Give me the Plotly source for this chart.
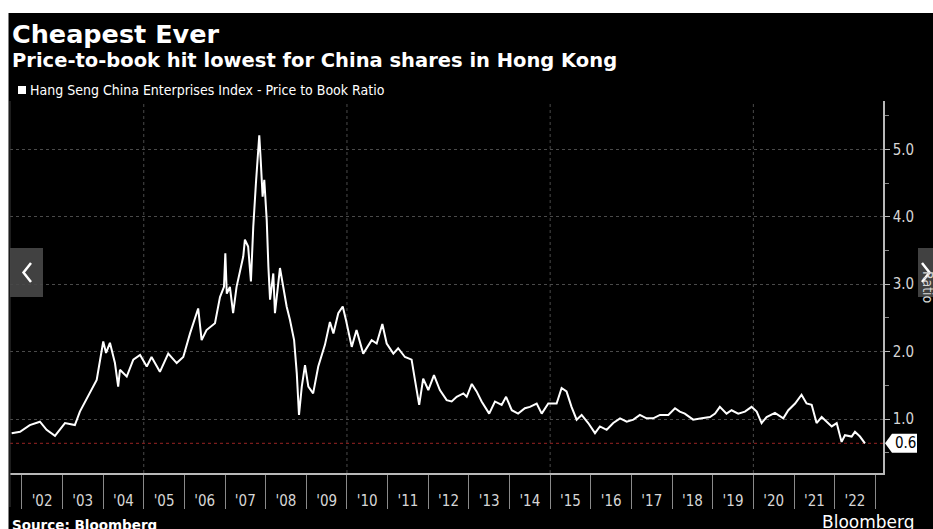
import plotly.graph_objects as go

# ---------------- data ----------------
dates = [
    "2001-10-02", "2001-12-16", "2002-03-14", "2002-06-13", "2002-08-12", "2002-10-26",
    "2003-01-24", "2003-04-23", "2003-06-07", "2003-09-06", "2003-11-05", "2004-01-03",
    "2004-01-28", "2004-03-03", "2004-04-17", "2004-05-16", "2004-06-01", "2004-08-01",
    "2004-09-29", "2004-11-29", "2005-01-28", "2005-03-12", "2005-05-26", "2005-08-09",
    "2005-10-24", "2005-12-22", "2006-02-21", "2006-05-05", "2006-06-05", "2006-07-19",
    "2006-10-03", "2006-11-17", "2006-12-23", "2007-01-04", "2007-01-17", "2007-02-14",
    "2007-03-15", "2007-04-15", "2007-06-14", "2007-06-29", "2007-07-28", "2007-08-22",
    "2007-09-12", "2007-10-06", "2007-11-05", "2007-11-18", "2007-12-05", "2007-12-20",
    "2008-01-11", "2008-01-26", "2008-02-10", "2008-03-10", "2008-03-25", "2008-05-09",
    "2008-06-08", "2008-07-08", "2008-08-07", "2008-09-13", "2008-10-07", "2008-10-27",
    "2008-11-21", "2008-12-20", "2009-01-19", "2009-03-03", "2009-04-18", "2009-06-17",
    "2009-08-01", "2009-09-01", "2009-10-15", "2009-11-24", "2009-12-23", "2010-02-13",
    "2010-03-28", "2010-05-27", "2010-08-11", "2010-09-25", "2010-11-15", "2010-12-24",
    "2011-02-22", "2011-04-06", "2011-06-06", "2011-08-05", "2011-09-04", "2011-10-12",
    "2011-11-17", "2012-01-02", "2012-02-22", "2012-04-15", "2012-06-15", "2012-07-30",
    "2012-09-13", "2012-11-12", "2012-12-12", "2013-01-27", "2013-03-11", "2013-04-25",
    "2013-07-02", "2013-08-23", "2013-10-22", "2013-12-01", "2014-01-21", "2014-03-19",
    "2014-05-19", "2014-07-03", "2014-09-02", "2014-10-17", "2014-12-15", "2015-02-28",
    "2015-04-14", "2015-05-28", "2015-07-12", "2015-08-27", "2015-10-11", "2015-12-09",
    "2016-02-08", "2016-03-23", "2016-05-23", "2016-07-21", "2016-09-20", "2016-11-19",
    "2017-01-18", "2017-03-17", "2017-05-16", "2017-07-15", "2017-09-14", "2017-11-28",
    "2018-01-27", "2018-03-11", "2018-04-25", "2018-07-09", "2018-09-24", "2018-12-07",
    "2019-01-22", "2019-03-06", "2019-05-05", "2019-06-19", "2019-08-18", "2019-10-17",
    "2019-12-16", "2020-01-31", "2020-03-15", "2020-04-29", "2020-07-13", "2020-09-26",
    "2020-11-10", "2021-01-10", "2021-03-09", "2021-04-23", "2021-06-08", "2021-07-22",
    "2021-09-06", "2021-10-20", "2021-12-05", "2022-01-19", "2022-03-04", "2022-04-03",
    "2022-06-02", "2022-07-02", "2022-08-16", "2022-09-30",
]
pb_ratio = [
    0.79, 0.81, 0.91, 0.96, 0.84, 0.75,
    0.94, 0.91, 1.11, 1.39, 1.58, 2.15,
    1.98, 2.13, 1.83, 1.48, 1.73, 1.63,
    1.88, 1.95, 1.78, 1.92, 1.70, 1.97,
    1.83, 1.92, 2.27, 2.64, 2.17, 2.32,
    2.42, 2.81, 2.96, 3.46, 2.86, 2.96,
    2.57, 2.96, 3.41, 3.66, 3.56, 3.04,
    3.85, 4.50, 5.21, 4.84, 4.30, 4.55,
    3.95, 3.26, 2.77, 3.16, 2.57, 3.24,
    2.96, 2.67, 2.47, 2.17, 1.68, 1.06,
    1.48, 1.80, 1.48, 1.38, 1.78, 2.10,
    2.44, 2.27, 2.57, 2.67, 2.47, 2.07,
    2.32, 1.97, 2.17, 2.12, 2.41, 2.12,
    1.97, 2.05, 1.92, 1.88, 1.58, 1.21,
    1.60, 1.43, 1.65, 1.43, 1.28, 1.26,
    1.33, 1.38, 1.33, 1.52, 1.41, 1.26,
    1.08, 1.26, 1.21, 1.33, 1.13, 1.08,
    1.16, 1.18, 1.23, 1.08, 1.23, 1.23,
    1.46, 1.41, 1.18, 0.99, 1.06, 0.94,
    0.79, 0.89, 0.84, 0.94, 1.01, 0.96,
    0.99, 1.06, 1.01, 1.01, 1.06, 1.06,
    1.16, 1.11, 1.08, 0.99, 1.01, 1.03,
    1.08, 1.18, 1.08, 1.13, 1.08, 1.11,
    1.18, 1.11, 0.94, 1.03, 1.09, 1.01,
    1.13, 1.23, 1.36, 1.23, 1.21, 0.94,
    1.03, 0.96, 0.89, 0.94, 0.66, 0.76,
    0.74, 0.81, 0.74, 0.64,
]
grid_years = ["2005-01-01", "2010-01-01", "2015-01-01", "2020-01-01"]

title = "Cheapest Ever"
subtitle = "Price-to-book hit lowest for China shares in Hong Kong"
series_name = "Hang Seng China Enterprises Index - Price to Book Ratio"

# ---------------- layout geometry ----------------
W, H = 933, 529
ML, MR, MT, MB = 10, 50, 101, 56
PW = W - ML - MR
PH = H - MT - MB


def px(x):
    return (x - ML) / PW


def py(y):
    return (H - MB - y) / PH


AX = "#b8b8b8"
TXT = "#d6d6d6"
GRID = "#4a4a4a"
TICKFONT = dict(family="DejaVu Sans Condensed, DejaVu Sans", size=15, color=TXT)

fig = go.Figure()
fig.add_trace(go.Scatter(
    x=dates, y=pb_ratio, mode="lines",
    line=dict(color="white", width=2),
    hoverinfo="skip", showlegend=False,
))

shapes = []
# white border strips of the screenshot
shapes.append(dict(type="rect", xref="paper", yref="paper", x0=px(-5), x1=px(W + 5),
                   y0=py(13), y1=py(-5), fillcolor="white", line=dict(width=0), layer="above"))
shapes.append(dict(type="rect", xref="paper", yref="paper", x0=px(-5), x1=px(8.5),
                   y0=py(H + 5), y1=py(-5), fillcolor="white", line=dict(width=0), layer="above"))
# vertical 5-year grid lines
for g in grid_years:
    shapes.append(dict(type="line", xref="x", yref="paper", x0=g, x1=g, y0=0, y1=1,
                       line=dict(color=GRID, width=1, dash="dot"), layer="below"))
# left edge line
shapes.append(dict(type="line", xref="paper", yref="paper", x0=0, x1=0, y0=py(507), y1=1,
                   line=dict(color="#3a3a3a", width=1)))
# last-value reference line
last = pb_ratio[-1]
shapes.append(dict(type="line", xref="paper", yref="y", x0=0, x1=1, y0=last, y1=last,
                   line=dict(color="#7a1c1c", width=1.2, dash="dot"), layer="below"))
# last-value tag pointer
dy = 9.5 / (PH / (5.718 - 0.199))
shapes.append(dict(type="path", xref="paper", yref="y",
                   path=f"M {px(885)},{last} L {px(892)},{last + dy} L {px(917)},{last + dy} "
                        f"L {px(917)},{last - dy} L {px(892)},{last - dy} Z",
                   fillcolor="white", line=dict(width=0)))
# legend square
shapes.append(dict(type="rect", xref="paper", yref="paper", x0=px(18), x1=px(26),
                   y0=py(94), y1=py(86), fillcolor="white", line=dict(width=0)))
# carousel navigation buttons
shapes.append(dict(type="rect", xref="paper", yref="paper", x0=px(10), x1=px(43),
                   y0=py(297), y1=py(248), fillcolor="rgba(72,72,72,0.9)", line=dict(width=0)))
shapes.append(dict(type="path", xref="paper", yref="paper",
                   path=f"M {px(31)},{py(263)} L {px(23.5)},{py(272.5)} L {px(31)},{py(282)}",
                   line=dict(color="white", width=2.5)))
shapes.append(dict(type="rect", xref="paper", yref="paper", x0=px(918), x1=px(940),
                   y0=py(297), y1=py(248), fillcolor="rgba(72,72,72,0.9)", line=dict(width=0)))
shapes.append(dict(type="path", xref="paper", yref="paper",
                   path=f"M {px(922)},{py(263)} L {px(929.5)},{py(272.5)} L {px(922)},{py(282)}",
                   line=dict(color="white", width=2.5)))

annotations = [
    dict(text=f"<b>{title}</b>", xref="paper", yref="paper", x=px(10), y=py(34),
         xanchor="left", yanchor="middle", showarrow=False,
         font=dict(family="DejaVu Sans", size=25.5, color="white")),
    dict(text=f"<b>{subtitle}</b>", xref="paper", yref="paper", x=px(10), y=py(60),
         xanchor="left", yanchor="middle", showarrow=False,
         font=dict(family="DejaVu Sans", size=19.5, color="white")),
    dict(text=series_name, xref="paper", yref="paper", x=px(28), y=py(90),
         xanchor="left", yanchor="middle", showarrow=False,
         font=dict(family="DejaVu Sans Condensed, DejaVu Sans", size=14, color="white")),
    dict(text=f"{last:.1f}", xref="paper", yref="y", x=px(893), y=last,
         xanchor="left", yanchor="middle", showarrow=False,
         font=dict(family="DejaVu Sans Condensed, DejaVu Sans", size=15, color="black")),
    dict(text="Ratio", xref="paper", yref="paper", x=px(928), y=py(287), textangle=90,
         xanchor="center", yanchor="middle", showarrow=False,
         font=dict(family="DejaVu Sans Condensed, DejaVu Sans", size=14, color=TXT)),
    dict(text="<b>Source: Bloomberg</b>", xref="paper", yref="paper", x=px(10), y=py(525),
         xanchor="left", yanchor="middle", showarrow=False,
         font=dict(family="DejaVu Sans", size=13.5, color="white")),
    dict(text="Bloomberg", xref="paper", yref="paper", x=px(916), y=py(522),
         xanchor="right", yanchor="middle", showarrow=False,
         font=dict(family="DejaVu Sans", size=17, color="white")),
]

fig.update_layout(
    width=W, height=H,
    margin=dict(l=ML, r=MR, t=MT, b=MB),
    paper_bgcolor="black", plot_bgcolor="black",
    showlegend=False,
    shapes=shapes, annotations=annotations,
    xaxis=dict(
        type="date", range=["2001-09-17", "2023-03-11"],
        tick0="2002-01-01", dtick="M12", tickformat="'%y", ticklabelmode="period",
        ticks="outside", ticklen=34, tickwidth=1, tickcolor="#8a8a8a",
        ticklabelstandoff=-21,
        showline=True, linecolor=AX, linewidth=1.5,
        showgrid=False, zeroline=False, tickfont=TICKFONT,
    ),
    yaxis=dict(
        side="right", range=[0.199, 5.718], tick0=0, dtick=1, tickformat=".1f",
        ticks="outside", ticklen=5, tickcolor=AX,
        minor=dict(dtick=0.5, ticks="outside", ticklen=4, tickcolor="#888"),
        showline=True, linecolor=AX, linewidth=1.5,
        showgrid=True, gridcolor=GRID, griddash="dot", gridwidth=1,
        zeroline=False, tickfont=TICKFONT,
    ),
)

fig.write_html("out.html")
